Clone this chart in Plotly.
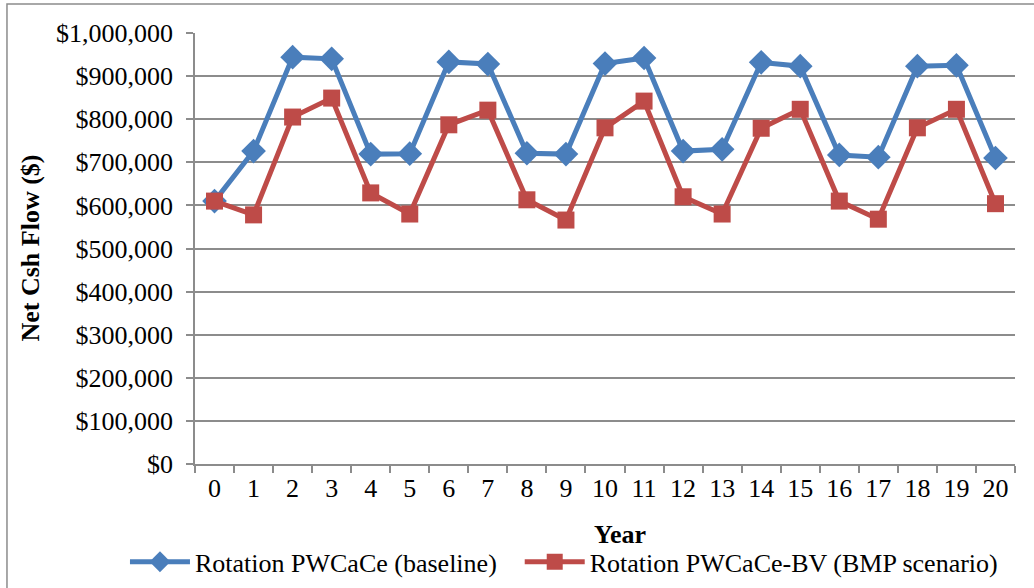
import plotly.graph_objects as go

years = [str(y) for y in range(21)]
baseline = [610000, 726000, 944000, 940000, 719000, 720000, 933000, 928000, 721000, 719000,
            929000, 942000, 726000, 730000, 932000, 923000, 717000, 712000, 923000, 925000, 710000]
bmp = [610000, 578000, 805000, 849000, 629000, 580000, 787000, 821000, 613000, 566000,
       780000, 842000, 620000, 580000, 779000, 823000, 610000, 568000, 780000, 823000, 604000]
y_ticks = [0, 100000, 200000, 300000, 400000, 500000, 600000, 700000, 800000, 900000, 1000000]
y_labels = ["${:,}".format(v) for v in y_ticks]

FONT = "Liberation Serif, Times New Roman, serif"
BLUE = "#4A7EBB"
RED = "#BE4B48"
GRID = "#8C8C8C"

fig = go.Figure()
fig.add_trace(go.Scatter(
    x=years, y=baseline, mode="lines+markers", name="Rotation PWCaCe (baseline)",
    line=dict(color=BLUE, width=5),
    marker=dict(symbol="diamond", size=19, color=BLUE),
    legend="legend",
))
fig.add_trace(go.Scatter(
    x=years, y=bmp, mode="lines+markers", name="Rotation PWCaCe-BV (BMP scenario)",
    line=dict(color=RED, width=5),
    marker=dict(symbol="square", size=17, color=RED),
    legend="legend2",
))

legend_style = dict(orientation="h", yanchor="middle", y=-0.227, xanchor="left",
                    font=dict(size=26), itemwidth=60, bgcolor="rgba(0,0,0,0)")

fig.update_layout(
    width=1034, height=588,
    margin=dict(l=195, r=19, t=33, b=124, autoexpand=False),
    paper_bgcolor="white", plot_bgcolor="white",
    font=dict(family=FONT, size=26, color="black"),
    showlegend=True,
    legend=dict(x=-0.0854, **legend_style),
    legend2=dict(x=0.396, **legend_style),
    xaxis=dict(
        type="category", showgrid=False, tickson="boundaries",
        ticks="outside", ticklen=7, tickcolor=GRID, tickwidth=1.5,
        showline=True, linecolor=GRID, linewidth=1.5,
        tickfont=dict(size=26), range=[-0.5, 20.5],
    ),
    yaxis=dict(
        range=[0, 1000000], tickvals=y_ticks, ticktext=y_labels,
        showgrid=True, gridcolor=GRID, gridwidth=1.5,
        ticks="outside", ticklen=7, tickcolor=GRID, tickwidth=1.5,
        showline=True, linecolor=GRID, linewidth=1.5, ticklabelstandoff=8,
        tickfont=dict(size=26), zeroline=False,
    ),
    annotations=[
        dict(text="<b>Net Csh Flow ($)</b>", textangle=-90, xref="paper", yref="paper",
             x=-0.2012, y=0.5, xanchor="center", yanchor="middle", showarrow=False,
             font=dict(size=26)),
        dict(text="<b>Year</b>", xref="paper", yref="paper",
             x=0.518, y=-0.1647, xanchor="center", yanchor="middle", showarrow=False,
             font=dict(size=26)),
    ],
    shapes=[
        dict(type="rect", xref="paper", yref="paper", x0=-0.2293, x1=1.05, y0=-0.35, y1=1.0673,
             line=dict(color="#8C8C8C", width=1.5), layer="below"),
    ],
)

fig.write_html("out.html")
